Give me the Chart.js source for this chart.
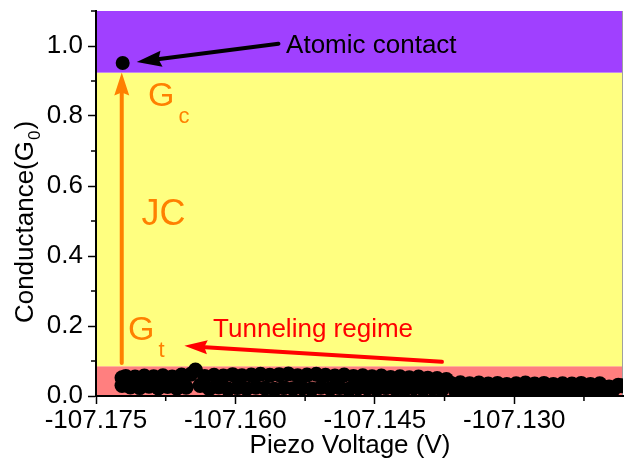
<!DOCTYPE html>
<html>
<head>
<meta charset="utf-8">
<script src="https://cdn.jsdelivr.net/npm/chart.js@4.4.1/dist/chart.umd.min.js"></script>
<style>
  html, body { margin: 0; padding: 0; background: #fff; }
  #wrap { width: 631px; height: 460px; }
</style>
</head>
<body>
<div id="wrap"><canvas id="chart" width="631" height="460"></canvas></div>
<script>
// piezo sweep (V) and measured conductance (G0) in the tunneling regime
const piezoV = [
  -107.1722, -107.1722, -107.1718, -107.1713, -107.1708, -107.1703, -107.1698, -107.1693, -107.1688, -107.1683,
  -107.1678, -107.1673, -107.1668, -107.1663, -107.1658, -107.1653, -107.1648, -107.1643, -107.1638, -107.1633,
  -107.1628, -107.1623, -107.1618, -107.1613, -107.1608, -107.1603, -107.1598, -107.1593, -107.1588, -107.1583,
  -107.1578, -107.1573, -107.1568, -107.1563, -107.1558, -107.1553, -107.1548, -107.1543, -107.1538, -107.1533,
  -107.1528, -107.1523, -107.1518, -107.1513, -107.1508, -107.1503, -107.1498, -107.1493, -107.1488, -107.1483,
  -107.1478, -107.1473, -107.1468, -107.1463, -107.1458, -107.1453, -107.1448, -107.1443, -107.1438, -107.1433,
  -107.1428, -107.1423, -107.1418, -107.1413, -107.1408, -107.1403, -107.1398, -107.1393, -107.1388, -107.1383,
  -107.1378, -107.1373, -107.1368, -107.1363, -107.1358, -107.1353, -107.1348, -107.1343, -107.1338, -107.1333,
  -107.1328, -107.1323, -107.1318, -107.1313, -107.1308, -107.1303, -107.1298, -107.1293, -107.1288, -107.1283,
  -107.1278, -107.1273, -107.1268, -107.1263, -107.1258, -107.1253, -107.1248, -107.1243, -107.1238, -107.1233,
  -107.1228, -107.1223, -107.1218, -107.1213, -107.1208, -107.1203, -107.1198, -107.1193, -107.1188, -107.1184
];
const conductance = [
  0.030, 0.052, 0.056, 0.026, 0.054, 0.024, 0.057, 0.028, 0.055, 0.023,
  0.058, 0.027, 0.054, 0.022, 0.060, 0.025, 0.062, 0.074, 0.030, 0.056,
  0.021, 0.059, 0.026, 0.057, 0.020, 0.061, 0.024, 0.058, 0.021, 0.060,
  0.025, 0.062, 0.022, 0.059, 0.019, 0.061, 0.024, 0.063, 0.021, 0.058,
  0.023, 0.060, 0.020, 0.062, 0.025, 0.059, 0.021, 0.057, 0.024, 0.060,
  0.019, 0.056, 0.023, 0.058, 0.022, 0.055, 0.020, 0.057, 0.024, 0.053,
  0.021, 0.055, 0.019, 0.052, 0.023, 0.054, 0.020, 0.051, 0.022, 0.050,
  0.018, 0.047, 0.036, 0.014, 0.038, 0.016, 0.035, 0.012, 0.037, 0.015,
  0.034, 0.013, 0.036, 0.016, 0.033, 0.011, 0.035, 0.014, 0.037, 0.012,
  0.034, 0.015, 0.036, 0.013, 0.033, 0.016, 0.035, 0.012, 0.034, 0.014,
  0.036, 0.013, 0.033, 0.015, 0.035, 0.012, 0.026, 0.020, 0.031, 0.029
];
// single atomic contact point
const contactV = [-107.17213];
const contactG = [0.9516];

const xTicks = [-107.175, -107.160, -107.145, -107.130];
const xMinorTicks = [-107.1675, -107.1525, -107.1375, -107.1225];
const yTicks = [0, 0.2, 0.4, 0.6, 0.8, 1.0];
const yMinorTicks = [0.1, 0.3, 0.5, 0.7, 0.9, 1.1];

// regime limits (G0): tunneling | jump to contact | atomic contact
const bandLimits = [0, 0.085, 0.924, 1.1];
const bandColors = ['#ff7f7f', '#ffff80', '#a040ff'];

const FONT = '"Liberation Sans", Arial, sans-serif';

function arrow(ctx, x1, y1, x2, y2, color, width, headLen, headHalf) {
  const a = Math.atan2(y2 - y1, x2 - x1);
  const c = Math.cos(a), s = Math.sin(a);
  const bx = x2 - headLen * c, by = y2 - headLen * s;
  ctx.save();
  ctx.strokeStyle = color;
  ctx.fillStyle = color;
  ctx.lineWidth = width;
  ctx.lineCap = 'round';
  ctx.beginPath();
  ctx.moveTo(x1, y1);
  ctx.lineTo(bx + 2 * c, by + 2 * s);
  ctx.stroke();
  ctx.beginPath();
  ctx.moveTo(x2, y2);
  ctx.lineTo(bx + headHalf * s, by - headHalf * c);
  ctx.lineTo(bx + 3 * c, by + 3 * s);
  ctx.lineTo(bx - headHalf * s, by + headHalf * c);
  ctx.closePath();
  ctx.fill();
  ctx.restore();
}

function subText(ctx, main, sub, x, y, size, color, subDy) {
  ctx.save();
  ctx.fillStyle = color;
  ctx.textAlign = 'left';
  ctx.textBaseline = 'alphabetic';
  ctx.font = size + 'px ' + FONT;
  ctx.fillText(main, x, y);
  const w = ctx.measureText(main).width;
  ctx.font = Math.round(size * 0.66) + 'px ' + FONT;
  ctx.fillText(sub, x + w + size * 0.12, y + size * subDy);
  ctx.restore();
}

const regimePlugin = {
  id: 'regimes',
  beforeDraw(chart) {
    const { ctx, chartArea: ca, scales: { y } } = chart;
    ctx.save();
    for (let i = 0; i < bandColors.length; i++) {
      const top = y.getPixelForValue(bandLimits[i + 1]);
      const bot = y.getPixelForValue(bandLimits[i]);
      ctx.fillStyle = bandColors[i];
      ctx.fillRect(ca.left, top, ca.right - ca.left, bot - top);
    }
    ctx.strokeStyle = '#a0a0a0';
    ctx.lineWidth = 1;
    ctx.beginPath();
    ctx.moveTo(ca.right - 0.5, ca.top);
    ctx.lineTo(ca.right - 0.5, ca.bottom);
    ctx.stroke();
    ctx.restore();
  },
  afterDatasetsDraw(chart) {
    const { ctx, scales: { x, y } } = chart;
    const px = v => x.getPixelForValue(v);
    const py = v => y.getPixelForValue(v);

    // jump to contact arrow
    arrow(ctx, px(-107.17223), py(0.094), px(-107.17223), py(0.924), '#ff8000', 4, 23, 7.5);
    // atomic contact pointer
    arrow(ctx, px(-107.15537), py(1.0066), px(-107.17062), py(0.9544), '#000', 4, 25, 8);
    // tunneling pointer
    arrow(ctx, px(-107.13778), py(0.0977), px(-107.16549), py(0.1433), '#ff0000', 4, 23, 7);

    ctx.save();
    ctx.textAlign = 'left';
    ctx.textBaseline = 'alphabetic';
    ctx.font = '26px ' + FONT;
    ctx.fillStyle = '#000';
    ctx.fillText('Atomic contact', px(-107.15455), py(0.9809));
    ctx.fillStyle = '#ff0000';
    ctx.fillText('Tunneling regime', px(-107.16240), py(0.1681));
    ctx.font = '36px ' + FONT;
    ctx.fillStyle = '#ff8000';
    ctx.fillText('JC', px(-107.17010), py(0.4880));
    ctx.restore();

    subText(ctx, 'G', 'c', px(-107.16940), py(0.8291), 34, '#ff8000', 0.5);
    subText(ctx, 'G', 't', px(-107.17156), py(0.1595), 34, '#ff8000', 0.5);
  },
  afterDraw(chart) {
    const { ctx, chartArea: ca, scales: { x, y } } = chart;
    ctx.save();
    ctx.strokeStyle = '#000';
    ctx.lineWidth = 1.5;
    ctx.beginPath();
    xMinorTicks.forEach(v => {
      const p = x.getPixelForValue(v);
      ctx.moveTo(p, ca.bottom);
      ctx.lineTo(p, ca.bottom + 5);
    });
    yMinorTicks.forEach(v => {
      const p = y.getPixelForValue(v);
      ctx.moveTo(ca.left, p);
      ctx.lineTo(ca.left - 5, p);
    });
    ctx.stroke();

    // axis titles
    ctx.fillStyle = '#000';
    ctx.textAlign = 'left';
    ctx.textBaseline = 'alphabetic';
    ctx.font = '26px ' + FONT;
    const xt = 'Piezo Voltage (V)';
    ctx.fillText(xt, 350 - ctx.measureText(xt).width / 2, 453);

    ctx.translate(33, 222);
    ctx.rotate(-Math.PI / 2);
    const a = 'Conductance(G', b = '0', c = ')';
    ctx.font = '26px ' + FONT;
    const wa = ctx.measureText(a).width, wc = ctx.measureText(c).width;
    ctx.font = '17px ' + FONT;
    const wb = ctx.measureText(b).width;
    const x0 = -(wa + wb + wc + 2) / 2;
    ctx.font = '26px ' + FONT;
    ctx.fillText(a, x0, 0);
    ctx.fillText(c, x0 + wa + wb + 2, 0);
    ctx.font = '17px ' + FONT;
    ctx.fillText(b, x0 + wa + 1, 7);
    ctx.restore();
  }
};

const pts = piezoV.map((v, i) => ({ x: v, y: conductance[i] }));
const contactPts = contactV.map((v, i) => ({ x: v, y: contactG[i] }));

new Chart(document.getElementById('chart'), {
  type: 'scatter',
  data: {
    datasets: [
      { label: 'Conductance', data: pts, pointRadius: 7.5, pointHoverRadius: 7.5, backgroundColor: '#000', borderWidth: 0 },
      { label: 'Atomic contact', data: contactPts, pointRadius: 7, pointHoverRadius: 7, backgroundColor: '#000', borderWidth: 0 }
    ]
  },
  options: {
    responsive: false,
    animation: false,
    events: [],
    layout: { padding: { top: 11, right: 8, left: 0, bottom: 0 } },
    plugins: { legend: { display: false }, tooltip: { enabled: false } },
    scales: {
      x: {
        type: 'linear',
        min: -107.175,
        max: -107.1183,
        afterBuildTicks: s => { s.ticks = xTicks.map(v => ({ value: v })); },
        afterFit: s => { s.height = 64; s.paddingLeft = 0; s.paddingRight = 0; },
        ticks: {
          callback: v => v.toFixed(3),
          font: { family: FONT, size: 26 },
          color: '#000',
          padding: 1,
          maxRotation: 0,
          autoSkip: false
        },
        grid: { drawOnChartArea: false, tickLength: 8, tickColor: '#000', tickWidth: 1.5 },
        border: { color: '#000', width: 2 }
      },
      y: {
        min: 0,
        max: 1.1,
        afterBuildTicks: s => { s.ticks = yTicks.map(v => ({ value: v })); },
        afterFit: s => { s.width = 96; s.paddingTop = 0; s.paddingBottom = 0; },
        ticks: {
          callback: v => v.toFixed(1),
          font: { family: FONT, size: 26 },
          color: '#000',
          padding: 5
        },
        grid: { drawOnChartArea: false, tickLength: 8, tickColor: '#000', tickWidth: 1.5 },
        border: { color: '#000', width: 2 }
      }
    }
  },
  plugins: [regimePlugin]
});
</script>
</body>
</html>
